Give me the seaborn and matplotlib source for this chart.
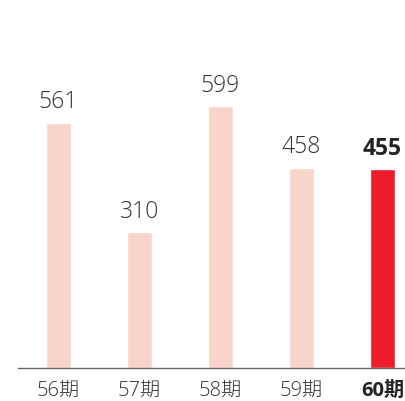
import matplotlib
matplotlib.use("Agg")
import matplotlib.pyplot as plt
import pandas as pd
import seaborn as sns

# データ
PERIODS = ['56期', '57期', '58期', '59期', '60期']
VALUES = [561, 310, 599, 458, 455]
COLORS = ['#F9D4CB', '#F9D4CB', '#F9D4CB', '#F9D4CB', '#EC1C2A']

df = pd.DataFrame({'period': PERIODS, 'value': VALUES})

sns.set_style("white")
FAMILY = ['Open Sans', 'Noto Sans CJK JP', 'DejaVu Sans']
plt.rcParams['font.family'] = FAMILY

fig = plt.figure(figsize=(4.05, 4.01), dpi=100)
ax = fig.add_axes([18 / 405, 33 / 401, 1 - 18 / 405, 1 - 33 / 401])

sns.barplot(data=df, x='period', y='value', hue='period',
            palette=COLORS, width=0.31, legend=False, ax=ax,
            saturation=1)

ax.set_xlim(-0.5, 4.28)
ax.set_ylim(0, 841)

# 値ラベル
for i, v in enumerate(VALUES):
    last = i == len(VALUES) - 1
    ax.annotate(f'{v}', (i, v), xytext=(0, 6), textcoords='offset points',
                ha='center', va='bottom', fontsize=16.5,
                fontweight='bold' if last else 'light',
                color='#222222' if last else '#333333')

ax.set_xlabel('')
ax.set_ylabel('')
ax.set_yticks([])
ax.tick_params(axis='x', length=0, pad=9)
for i, lab in enumerate(ax.get_xticklabels()):
    lab.set_fontsize(14.5)
    if i == len(PERIODS) - 1:
        lab.set_fontweight('bold')
        lab.set_color('#222222')
    else:
        lab.set_fontweight('light')
        lab.set_color('#333333')

for s in ['top', 'right', 'left']:
    ax.spines[s].set_visible(False)
ax.spines['bottom'].set_color('#666666')
ax.spines['bottom'].set_linewidth(1.0)

fig.savefig('out.png', dpi=100)
